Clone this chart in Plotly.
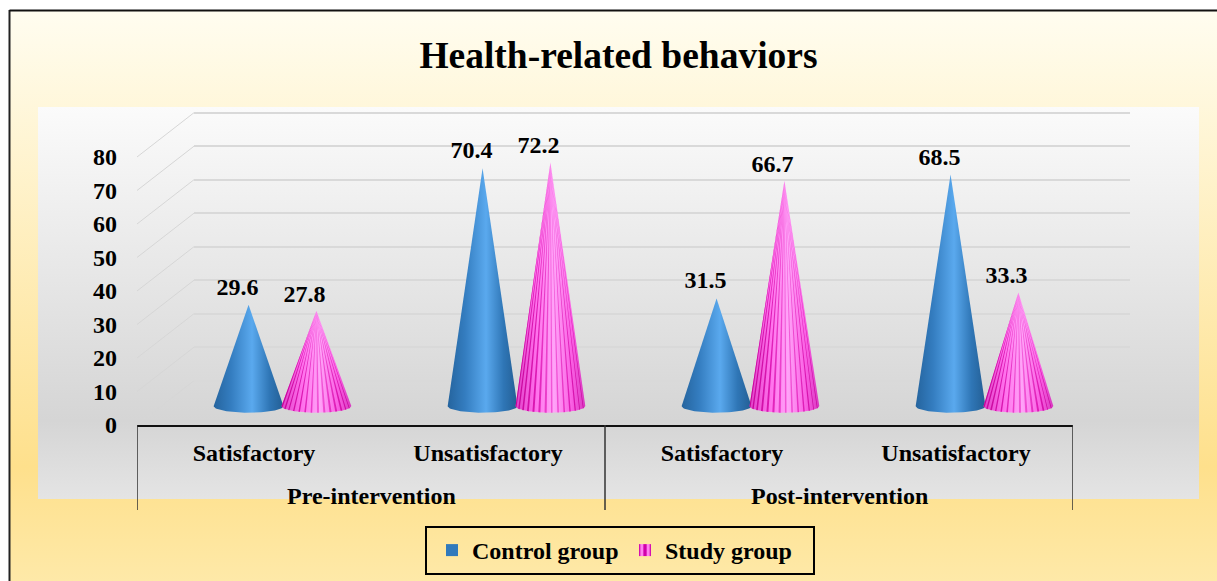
import numpy as np
import plotly.graph_objects as go

W, H = 1217, 581

categories = ["Satisfactory", "Unsatisfactory", "Satisfactory", "Unsatisfactory"]
periods = ["Pre-intervention", "Post-intervention"]
period_positions = [0.5, 2.5]
y_ticks = [0, 10, 20, 30, 40, 50, 60, 70, 80]
control_values = [29.6, 70.4, 31.5, 68.5]
study_values = [27.8, 72.2, 66.7, 33.3]
control_labels = ["29.6", "70.4", "31.5", "68.5"]
study_labels = ["27.8", "72.2", "66.7", "33.3"]

FONT = "Liberation Serif"
PX_PER_UNIT = 3.35
PX_PER_CAT = 234.0
BASE = -0.6


def xdom(left):
    return [left / W, (left + 4 * PX_PER_CAT) / W]


def ydom(top, bottom):
    return [1 - bottom / H, 1 - top / H]


def cone_outline(cx, value, half_w=0.149, semi=2.0, n=40):
    t = np.linspace(0, np.pi, n)
    xs = [cx - half_w, cx] + list(cx + half_w * np.cos(t))
    ys = [BASE, value] + list(BASE - semi * np.sin(t))
    return xs, ys


def stripes(cx, value, half_w=0.149, semi=2.0, segs=28):
    xs, ys = [], []
    even_angle = np.linspace(0, np.pi, segs + 1)
    even_width = np.arccos(np.linspace(1, -1, segs + 1))
    edges = 0.5 * (even_angle + even_width)
    for i in range(1, segs, 2):
        t = np.linspace(edges[i] + 0.015, edges[i + 1] - 0.015, 5)
        xs += [cx] + list(cx + half_w * np.cos(t)) + [cx, None]
        ys += [value] + list(BASE - semi * np.sin(t)) + [value, None]
    return xs, ys


fig = go.Figure()

# page + panel backgrounds, on a pixel-scaled helper subplot
fig.add_trace(go.Scatter(
    x=[10, W, W, 10, 10], y=[11, 11, H, H, 11], mode="lines", line=dict(width=0),
    fill="toself", showlegend=False, hoverinfo="skip",
    fillgradient=dict(type="vertical", start=11, stop=H, colorscale=[
        [0, "#FFFDF0"], [0.8, "#FEE08C"], [1, "#FEE9A8"]]),
))
fig.add_trace(go.Scatter(
    x=[38, 1199, 1199, 38, 38], y=[107, 107, 499, 499, 107], mode="lines", line=dict(width=0),
    fill="toself", showlegend=False, hoverinfo="skip",
    fillgradient=dict(type="vertical", start=107, stop=499, colorscale=[
        [0, "#FBFBFB"], [0.8, "#D5D5D5"], [1, "#E4E4E4"]]),
))

# back wall: its gridlines come from yaxis2 (needs a trace to exist)
fig.add_trace(go.Scatter(x=[None], y=[None], xaxis="x2", yaxis="y2", showlegend=False, hoverinfo="skip"))
fig.add_trace(go.Scatter(x=[None], y=[None], xaxis="x3", yaxis="y3", showlegend=False, hoverinfo="skip"))

# cones
OFF = 0.145
BLUE = [[0, "#25649E"], [0.25, "#347DC0"], [0.55, "#5AA9EE"], [0.8, "#2F76B6"], [1, "#235E94"]]
PINK = [[0, "#E040C8"], [0.3, "#FF70EC"], [0.55, "#FFA4F8"], [0.8, "#FA60E4"], [1, "#D838C0"]]
STRIPE = [[0, "rgba(195,0,150,0.95)"], [0.3, "rgba(215,10,170,0.85)"], [0.55, "rgba(235,40,195,0.55)"],
          [0.8, "rgba(215,10,170,0.85)"], [1, "rgba(195,0,150,0.95)"]]
for i in range(4):
    x, y = cone_outline(i - OFF, control_values[i])
    fig.add_trace(go.Scatter(x=x, y=y, xaxis="x4", yaxis="y4", mode="lines", line=dict(width=0),
                             fill="toself", fillgradient=dict(type="horizontal", colorscale=BLUE),
                             showlegend=False, hoverinfo="skip"))
for i in range(4):
    x, y = cone_outline(i + OFF, study_values[i])
    fig.add_trace(go.Scatter(x=x, y=y, xaxis="x4", yaxis="y4", mode="lines", line=dict(width=0),
                             fill="toself", fillgradient=dict(type="horizontal", colorscale=PINK),
                             showlegend=False, hoverinfo="skip"))
    x, y = stripes(i + OFF, study_values[i])
    fig.add_trace(go.Scatter(x=x, y=y, xaxis="x4", yaxis="y4", mode="lines", line=dict(width=0),
                             fill="toself",
                             fillgradient=dict(type="horizontal", colorscale=STRIPE,
                                               start=i + OFF - 0.149, stop=i + OFF + 0.149),
                             showlegend=False, hoverinfo="skip"))

# value labels
label_font = dict(family=FONT, size=24, color="black", weight=700)
fig.add_trace(go.Scatter(
    x=[i - OFF - 11 / PX_PER_CAT for i in range(4)], y=[v + 16 / PX_PER_UNIT for v in control_values],
    text=control_labels, mode="text", textposition="middle center", textfont=label_font,
    xaxis="x4", yaxis="y4", showlegend=False, hoverinfo="skip", cliponaxis=False))
fig.add_trace(go.Scatter(
    x=[i + OFF - 12 / PX_PER_CAT for i in range(4)], y=[v + 15 / PX_PER_UNIT for v in study_values],
    text=study_labels, mode="text", textposition="middle center", textfont=label_font,
    xaxis="x4", yaxis="y4", showlegend=False, hoverinfo="skip", cliponaxis=False))

# side wall diagonals, on a tall copy of the front axes so nothing is clipped
DX, DY = 57 / PX_PER_CAT, 44.3 / PX_PER_UNIT
sx, sy = [], []
for v in y_ticks:
    sx += [-0.5, -0.5 + DX, None]
    sy += [v, v + DY, None]
fig.add_trace(go.Scatter(x=sx, y=sy, xaxis="x5", yaxis="y5", mode="lines",
                         line=dict(color="#D6D6D6", width=1), showlegend=False, hoverinfo="skip"))

# legend entries
fig.add_trace(go.Bar(x=[None], y=[None], name="Control group", xaxis="x4", yaxis="y4",
                     marker=dict(color="#3079BC", line=dict(width=0))))
fig.add_trace(go.Bar(x=[None], y=[None], name="Study group", xaxis="x4", yaxis="y4",
                     marker=dict(color="#D000A8", line=dict(width=0),
                                 pattern=dict(shape="|", fgcolor="#FF80F0", bgcolor="#D000A8",
                                              size=8, solidity=0.5, fillmode="replace"))))

hidden = dict(visible=False, fixedrange=True)
axis_font = dict(family=FONT, size=24, color="black", weight=700)

layout = dict(
    width=W, height=H, margin=dict(l=0, r=0, t=0, b=0, autoexpand=False),
    paper_bgcolor="white", plot_bgcolor="rgba(0,0,0,0)",
    title=dict(text="Health-related behaviors", x=618.5 / W, xanchor="center", xref="paper",
               y=1 - 55 / H, yanchor="middle", yref="paper",
               font=dict(family=FONT, size=37.5, color="black", weight=700)),
    xaxis=dict(domain=[0, 1], range=[0, W], **hidden),
    yaxis=dict(domain=[0, 1], range=[H, 0], **hidden),
    xaxis2=dict(domain=xdom(194), range=[-0.5, 3.5], anchor="y2", **hidden),
    yaxis2=dict(domain=ydom(112.7 - PX_PER_UNIT, 380.7 + PX_PER_UNIT), range=[-1, 81], anchor="x2",
                showticklabels=False, showgrid=True, gridcolor="#D9D9D9", gridwidth=2, tickvals=y_ticks,
                zeroline=False, showline=False, fixedrange=True),
    xaxis3=dict(domain=xdom(137), range=[-0.5, 3.5], anchor="y3", tickvals=[0, 1, 2, 3],
                ticktext=categories, tickfont=axis_font, showgrid=False, zeroline=False,
                showline=True, linecolor="#111111", linewidth=2, ticks="", ticklabelstandoff=5,
                fixedrange=True),
    yaxis3=dict(domain=ydom(157, 425), range=[0, 80], anchor="x3", tickvals=y_ticks,
                tickfont=axis_font, showgrid=False, zeroline=False, showline=False, ticks="",
                ticklabelstandoff=19, fixedrange=True),
    xaxis4=dict(domain=xdom(165.5), range=[-0.5, 3.5], anchor="y4", **hidden),
    yaxis4=dict(domain=ydom(404 - 90 * PX_PER_UNIT, 404 + 10 * PX_PER_UNIT), range=[-10, 90],
                anchor="x4", **hidden),
    xaxis5=dict(domain=xdom(137), range=[-0.5, 3.5], anchor="y5", **hidden),
    yaxis5=dict(domain=ydom(425 - 100 * PX_PER_UNIT, 425), range=[0, 100], anchor="x5", **hidden),
    legend=dict(orientation="h", x=425 / W, xanchor="left", y=1 - 526 / H, yanchor="top",
                bgcolor="rgba(0,0,0,0)", bordercolor="black", borderwidth=2, indentation=5,
                font=dict(family=FONT, size=24, color="black", weight=700),
                entrywidth=143, entrywidthmode="pixels", traceorder="normal"),
    annotations=[dict(text=p, x=x, xref="x3", y=1 - 496 / H, yref="paper", showarrow=False,
                      xanchor="center", yanchor="middle", font=axis_font)
                 for p, x in zip(periods, period_positions)],
    shapes=[
        # page frame
        dict(type="line", xref="paper", yref="paper", x0=9.5 / W, x1=9.5 / W, y0=0, y1=1 - 10 / H,
             line=dict(color="#222222", width=2), layer="above"),
        dict(type="line", xref="paper", yref="paper", x0=9.5 / W, x1=1, y0=1 - 10.5 / H, y1=1 - 10.5 / H,
             line=dict(color="#111111", width=2), layer="above"),
    ] + [
        dict(type="line", xref="x3", yref="paper", x0=x, x1=x, y0=1 - 425 / H, y1=1 - 510 / H,
             line=dict(color="#333333", width=1.5), layer="above")
        for x in [-0.5, 1.5, 3.5]
    ],
)
fig.update_layout(**layout)

fig.write_html("out.html", config=dict(displayModeBar=False),
               post_script="document.body.style.margin='0';document.body.style.overflow='hidden';")
